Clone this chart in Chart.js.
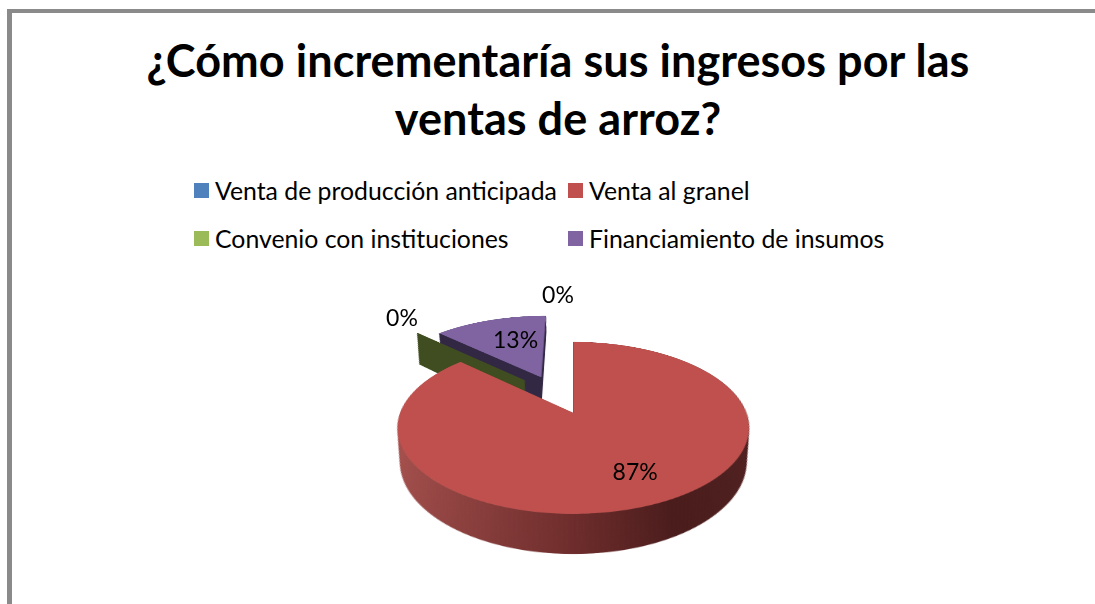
<!DOCTYPE html>
<html>
<head>
<meta charset="utf-8">
<script src="https://cdn.jsdelivr.net/npm/chart.js@4/dist/chart.umd.js"></script>
<style>
  html, body { margin: 0; width: 1095px; height: 604px; overflow: hidden; background: #fff; font-family: Lato, sans-serif; color: #000; }
  #frame { position: absolute; left: 7px; top: 9px; right: 0; bottom: 0; border-top: 4px solid #8a8a8a; border-left: 5px solid #8a8a8a; }
  #title { position: absolute; left: 58px; width: 1000px; top: 31px; text-align: center; font-weight: 700; font-size: 45px; letter-spacing: 0.05px; line-height: 58px; }
  #legend { position: absolute; left: 194px; top: 166px; display: grid; grid-template-columns: 374px 374px; grid-auto-rows: 48px; font-size: 24.8px; }
  #legend div { display: flex; align-items: center; white-space: nowrap; }
  #legend i { width: 15px; height: 15px; margin-right: 6px; }
  #pie { position: absolute; }
  .pct { position: absolute; font-size: 23px; transform: translate(-50%, -50%); }
</style>
</head>
<body>
<div id="frame"></div>
<div id="title">¿Cómo incrementaría sus ingresos por las<br>ventas de arroz?</div>
<div id="legend"></div>
<canvas id="pie" width="700" height="700"></canvas>
<div id="labels"></div>
<script>
const categories = ['Venta de producción anticipada', 'Venta al granel', 'Convenio con instituciones', 'Financiamiento de insumos'];
const values = [0, 87, 0, 13];

const topColors = ['#4F81BD', '#C0504D', '#9BBB59', '#8064A2'];
const wallColors = ['#2A4566', '#7A3230', '#3F4D20', '#322844'];

// how far each slice is pulled out of the pie, and where its label sits
const explode = [48, 43.5, 48, 43.5];
const labelRadius = [1.39, 0.7, 1.37, 0.6];
const labelNudge = [[-2, 0], [8, -2], [11, -4], [7, -2]];
// the empty green slice shows a taller and longer cut face than the rest
const wallHeight = [33, 33, 38, 23];
const rimStretch = [1, 1, 1.07, 1];

const RADIUS = 173;
const TILT = 61.2 * Math.PI / 180;
const PERSPECTIVE = 871;
const anchor = { x: 573, y: 413 }; // where the tip of the red slice lands on the page
let origin = { x: 0, y: 0 };

function project(x, y) {
  const dx = x - origin.x;
  const dy = y - origin.y;
  const k = PERSPECTIVE / (PERSPECTIVE - dy * Math.sin(TILT));
  return { x: dx * k, y: dy * Math.cos(TILT) * k, k: k };
}

function unproject(sx, sy) {
  const dy = sy * PERSPECTIVE / (Math.cos(TILT) * PERSPECTIVE + sy * Math.sin(TILT));
  const k = PERSPECTIVE / (PERSPECTIVE - dy * Math.sin(TILT));
  return { x: origin.x + sx / k, y: origin.y + dy };
}

// pull the slices apart, the arc "offset" option would leave a hole at the tip
const explodePlugin = {
  id: 'explodePlugin',
  afterDatasetsUpdate(chart) {
    const meta = chart.getDatasetMeta(0);
    meta.data.forEach((arc, i) => {
      const mid = (arc.startAngle + arc.endAngle) / 2;
      arc.x += Math.cos(mid) * explode[i];
      arc.y += Math.sin(mid) * explode[i];
    });
    origin = { x: meta.data[1].x, y: meta.data[1].y };
  }
};

function drawWall(ctx, arc, i) {
  const rim = [{ x: arc.x, y: arc.y }];
  const r = arc.outerRadius * rimStretch[i];
  const steps = Math.max(1, Math.ceil(arc.circumference * 40));
  for (let s = 0; s <= steps; s++) {
    const a = arc.startAngle + arc.circumference * s / steps;
    rim.push({ x: arc.x + Math.cos(a) * r, y: arc.y + Math.sin(a) * r });
  }
  if (arc.circumference > 0) rim.push({ x: arc.x, y: arc.y });

  // drop every rim point straight down the page, a bit narrower at the bottom
  const bottom = rim.map(pt => {
    const p = project(pt.x, pt.y);
    return unproject(p.x * 0.985, p.y + wallHeight[i] * p.k);
  });

  let fill = wallColors[i];
  if (i === 1) {
    fill = ctx.createLinearGradient(arc.x - arc.outerRadius, 0, arc.x + arc.outerRadius, 0);
    fill.addColorStop(0, '#A8524F');
    fill.addColorStop(0.25, '#8B403E');
    fill.addColorStop(0.5, '#6E2D2C');
    fill.addColorStop(0.74, '#4A1C1C');
    fill.addColorStop(1, '#502120');
  }
  ctx.fillStyle = fill;
  ctx.strokeStyle = fill;
  ctx.lineWidth = 0.5;
  // one quad per rim segment so overlapping faces don't cancel out
  for (let n = 0; n < rim.length - 1; n++) {
    ctx.beginPath();
    ctx.moveTo(rim[n].x, rim[n].y);
    ctx.lineTo(rim[n + 1].x, rim[n + 1].y);
    ctx.lineTo(bottom[n + 1].x, bottom[n + 1].y);
    ctx.lineTo(bottom[n].x, bottom[n].y);
    ctx.closePath();
    ctx.fill();
    ctx.stroke();
  }
}

const wallPlugin = {
  id: 'wallPlugin',
  beforeDatasetsDraw(chart) {
    const arcs = chart.getDatasetMeta(0).data;
    [3, 2, 1].forEach(i => drawWall(chart.ctx, arcs[i], i));
  }
};

const chartInstance = new Chart(document.getElementById('pie'), {
  type: 'pie',
  data: {
    labels: categories,
    datasets: [{
      data: values,
      backgroundColor: topColors,
      borderWidth: 0,
      radius: RADIUS
    }]
  },
  options: {
    responsive: false,
    animation: false,
    devicePixelRatio: 2,
    plugins: {
      legend: { display: false },
      title: { display: false },
      tooltip: { enabled: false }
    }
  },
  plugins: [explodePlugin, wallPlugin]
});

// tilt the canvas around the tip of the red slice
const arcs = chartInstance.getDatasetMeta(0).data;
const canvas = document.getElementById('pie');
canvas.style.left = (anchor.x - origin.x) + 'px';
canvas.style.top = (anchor.y - origin.y) + 'px';
canvas.style.transformOrigin = origin.x + 'px ' + origin.y + 'px';
canvas.style.transform = 'perspective(' + PERSPECTIVE + 'px) rotateX(' + TILT + 'rad)';

const legendBox = document.getElementById('legend');
categories.forEach((name, i) => {
  const item = document.createElement('div');
  const box = document.createElement('i');
  box.style.background = topColors[i];
  item.appendChild(box);
  item.appendChild(document.createTextNode(name));
  legendBox.appendChild(item);
});

const total = values.reduce((a, b) => a + b, 0);
const labelBox = document.getElementById('labels');
arcs.forEach((arc, i) => {
  const mid = (arc.startAngle + arc.endAngle) / 2;
  const r = arc.outerRadius * labelRadius[i];
  const p = project(arc.x + Math.cos(mid) * r, arc.y + Math.sin(mid) * r);
  const span = document.createElement('span');
  span.className = 'pct';
  span.textContent = Math.round(values[i] / total * 100) + '%';
  span.style.left = (anchor.x + p.x + labelNudge[i][0]) + 'px';
  span.style.top = (anchor.y + p.y + labelNudge[i][1]) + 'px';
  labelBox.appendChild(span);
});
</script>
</body>
</html>
